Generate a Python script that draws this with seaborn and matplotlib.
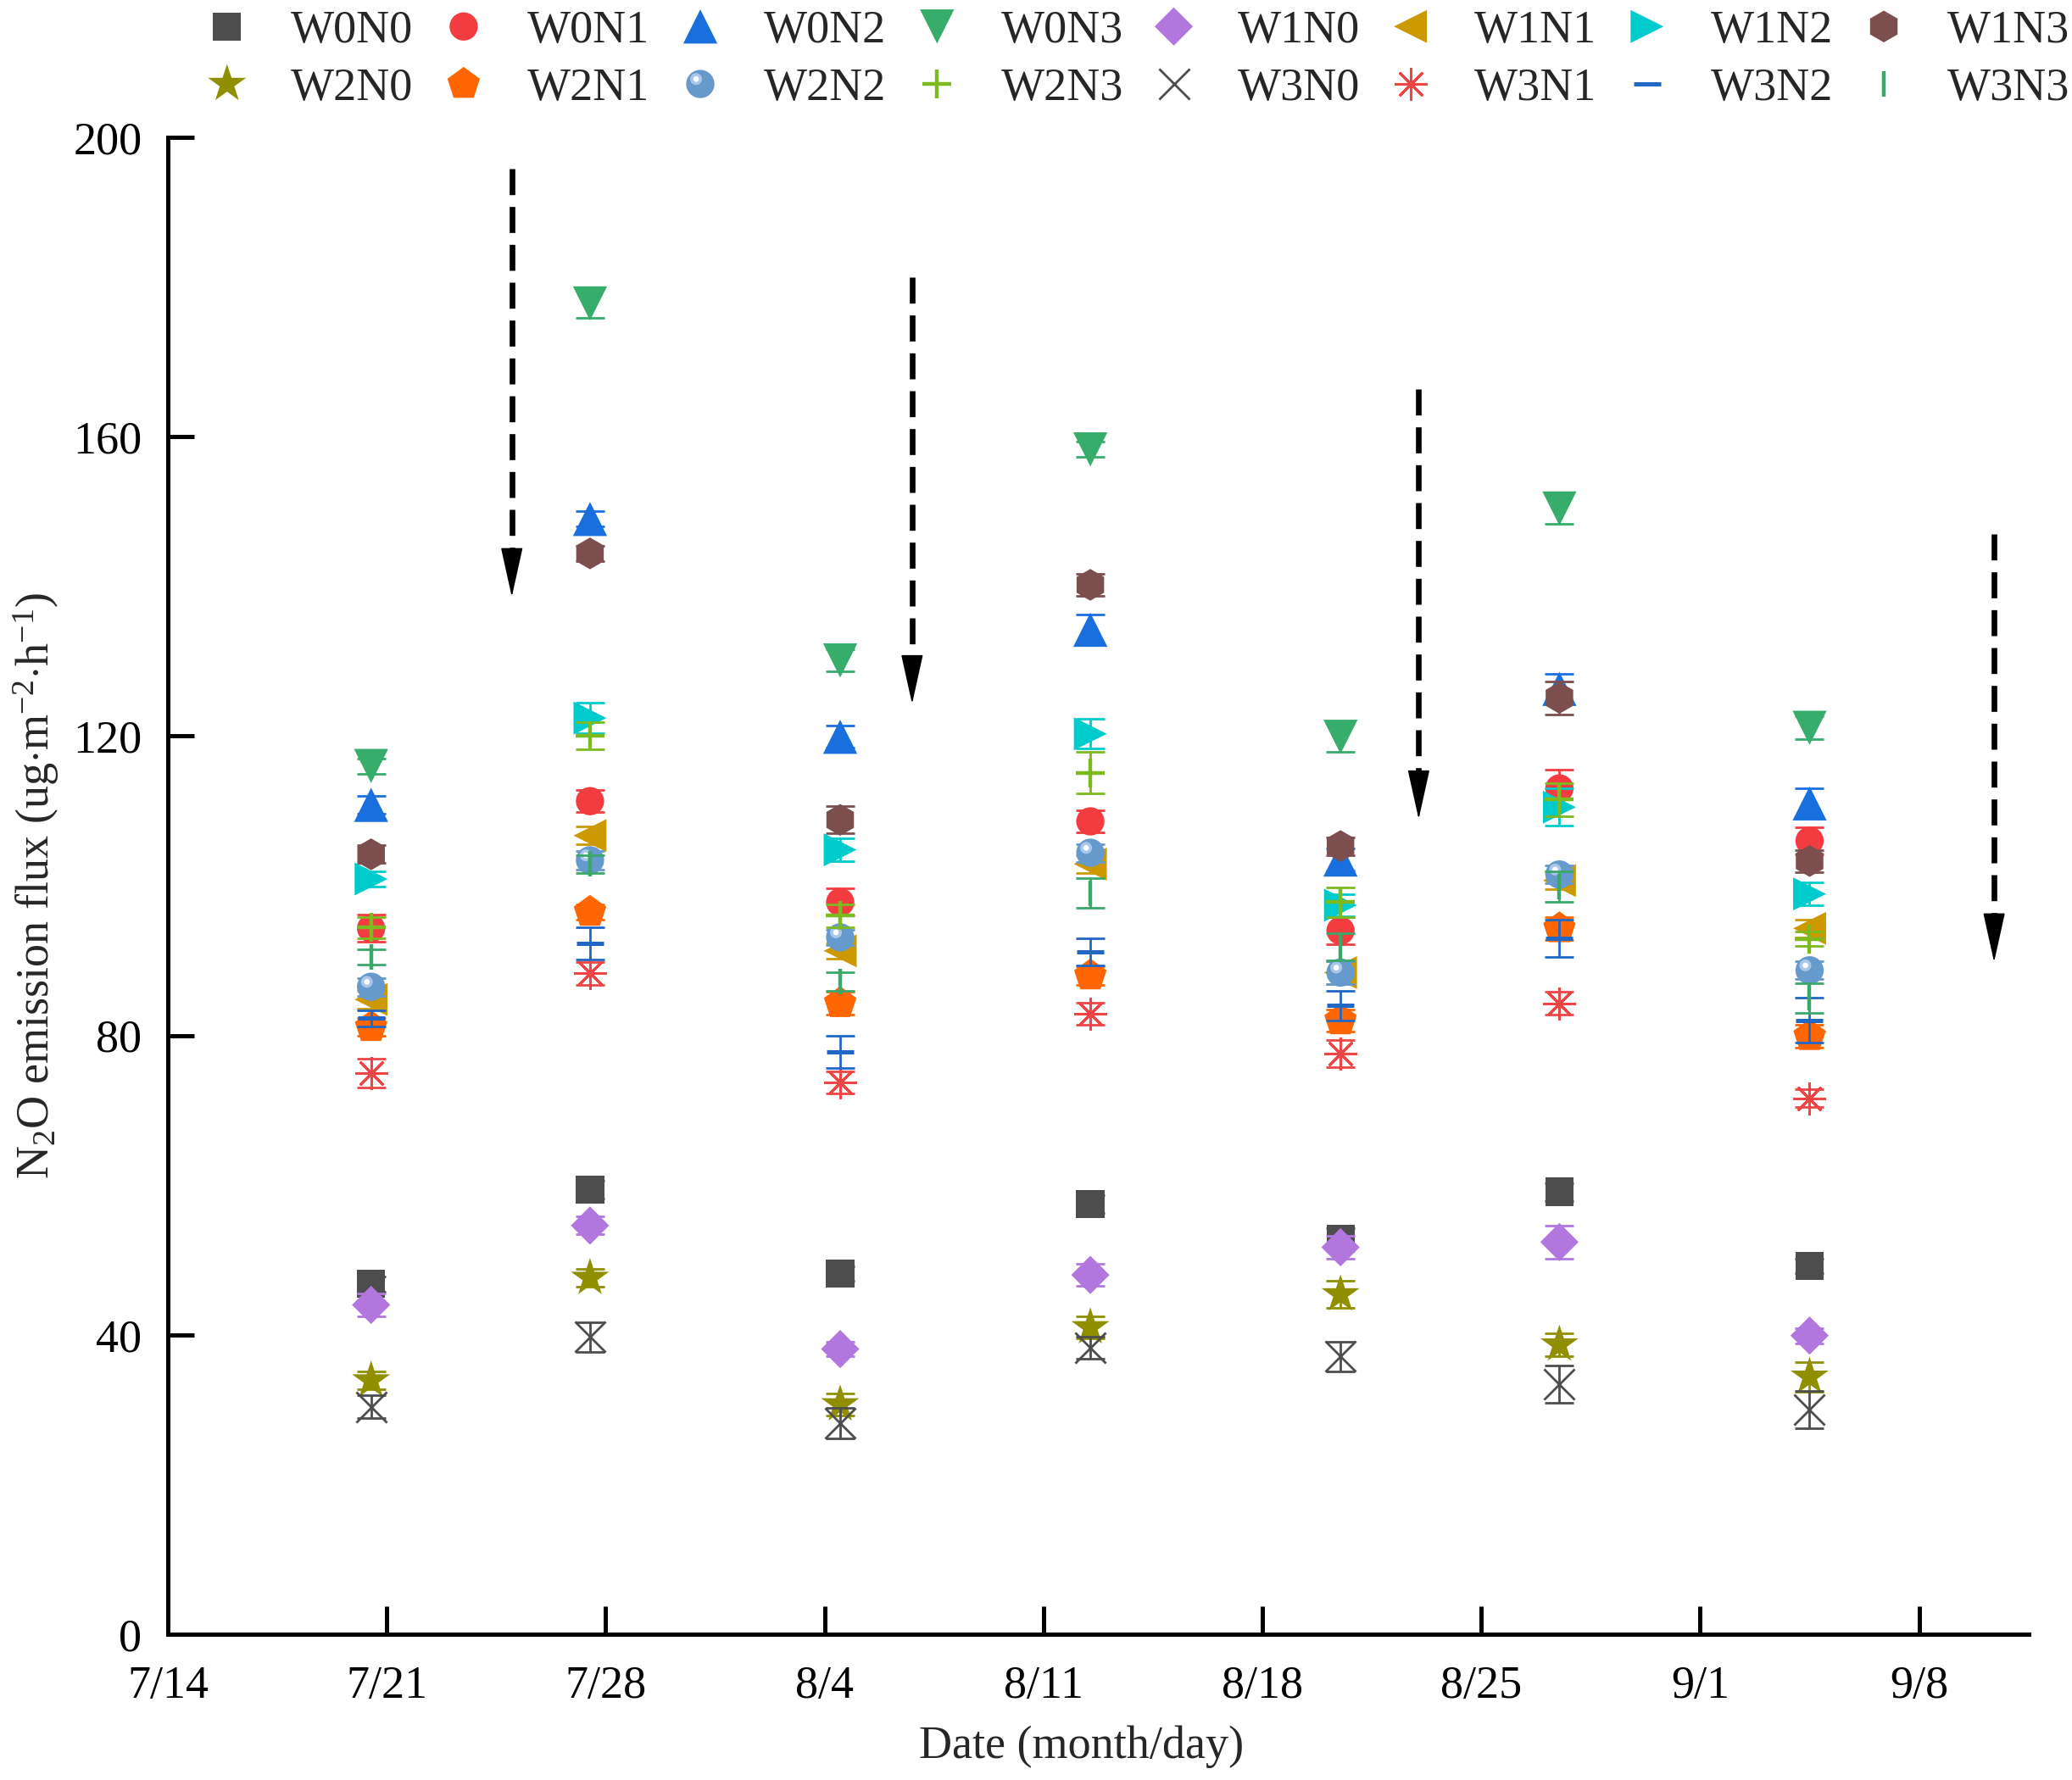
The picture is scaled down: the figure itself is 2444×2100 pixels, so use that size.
import numpy as np
import pandas as pd
import matplotlib
matplotlib.use("Agg")
import matplotlib.pyplot as plt
import seaborn as sns
from matplotlib.path import Path
from matplotlib.legend_handler import HandlerTuple

# ---------------- data ----------------
tick_days = [0, 7, 14, 21, 28, 35, 42, 49, 56]
tick_labels = ["7/14", "7/21", "7/28", "8/4", "8/11", "8/18", "8/25", "9/1", "9/8"]
y_ticks = [0, 40, 80, 120, 160, 200]
# sampling dates, days after 7/14
sample_days = [6.5, 13.5, 21.5, 29.5, 37.5, 44.5, 52.5]

treatments = ["W0N0", "W0N1", "W0N2", "W0N3", "W1N0", "W1N1", "W1N2", "W1N3",
              "W2N0", "W2N1", "W2N2", "W2N3", "W3N0", "W3N1", "W3N2", "W3N3"]

W0N0 = [46.8, 59.4, 48.2, 57.5, 52.8, 59.1, 49.2]
W0N1 = [94.3, 111.3, 97.8, 108.6, 94.0, 113.0, 106.0]
W0N2 = [110.8, 149.0, 119.9, 134.2, 103.5, 126.3, 111.0]
W0N3 = [116.0, 177.8, 130.1, 158.3, 119.9, 150.4, 121.1]
W1N0 = [44.0, 54.6, 38.1, 48.0, 51.7, 52.4, 39.9]
W1N1 = [84.8, 106.7, 91.3, 102.9, 88.4, 100.7, 94.3]
W1N2 = [100.9, 122.4, 104.8, 120.3, 97.4, 110.5, 98.9]
W1N3 = [104.2, 144.4, 108.8, 140.2, 105.3, 125.1, 103.3]
W2N0 = [33.9, 47.6, 30.7, 41.0, 45.4, 38.7, 34.4]
W2N1 = [81.1, 96.5, 84.3, 88.0, 82.0, 94.3, 79.9]
W2N2 = [86.5, 103.4, 93.1, 104.4, 88.4, 101.5, 88.7]
W2N3 = [94.4, 120.0, 96.0, 115.1, 97.8, 111.5, 92.9]
W3N0 = [30.4, 39.7, 28.2, 38.3, 37.1, 33.4, 30.0]
W3N1 = [75.0, 88.3, 73.7, 82.9, 77.6, 84.3, 71.6]
W3N2 = [82.3, 92.3, 77.8, 91.2, 84.0, 93.0, 82.0]
W3N3 = [90.5, 102.9, 87.2, 99.0, 91.8, 99.9, 85.0]

err_W0N0 = [1.0, 1.2, 1.0, 1.2, 1.5, 1.2, 1.0]
err_W0N1 = [1.8, 1.5, 1.8, 1.5, 1.8, 2.5, 1.8]
err_W0N2 = [1.2, 1.0, 1.5, 2.0, 1.5, 2.0, 2.0]
err_W0N3 = [1.0, 1.9, 1.5, 1.0, 2.0, 2.0, 1.5]
err_W1N0 = [1.5, 1.2, 1.0, 1.5, 1.5, 2.2, 1.0]
err_W1N1 = [1.2, 1.2, 1.0, 1.2, 1.5, 1.2, 1.2]
err_W1N2 = [1.0, 2.0, 1.5, 2.0, 1.5, 2.5, 1.5]
err_W1N3 = [1.2, 1.0, 1.8, 1.5, 1.2, 2.2, 1.5]
err_W2N0 = [1.2, 1.2, 1.5, 1.5, 1.8, 1.5, 2.0]
err_W2N1 = [1.2, 1.0, 1.5, 1.2, 1.5, 1.5, 1.5]
err_W2N2 = [1.2, 1.2, 1.0, 1.2, 1.5, 1.2, 1.2]
err_W2N3 = [1.4, 1.8, 1.5, 2.8, 2.0, 2.2, 1.0]
err_W3N0 = [1.5, 2.0, 2.0, 1.5, 2.0, 2.5, 2.5]
err_W3N1 = [1.9, 1.5, 1.5, 1.5, 1.8, 1.5, 1.2]
err_W3N2 = [1.1, 2.2, 2.2, 1.8, 2.0, 2.5, 3.0]
err_W3N3 = [1.0, 1.2, 1.3, 2.0, 1.8, 2.0, 2.0]

# event arrows (days after 7/14, y top, y tip)
event_days = [11.0, 23.8, 40.0, 58.4]
arrow_top = [195.8, 181.3, 166.3, 147.0]
arrow_tip = [138.6, 124.3, 108.9, 89.8]

values = [W0N0, W0N1, W0N2, W0N3, W1N0, W1N1, W1N2, W1N3,
          W2N0, W2N1, W2N2, W2N3, W3N0, W3N1, W3N2, W3N3]
errors = [err_W0N0, err_W0N1, err_W0N2, err_W0N3, err_W1N0, err_W1N1, err_W1N2, err_W1N3,
          err_W2N0, err_W2N1, err_W2N2, err_W2N3, err_W3N0, err_W3N1, err_W3N2, err_W3N3]

rows = []
for t, v, e in zip(treatments, values, errors):
    for d, vv, ee in zip(sample_days, v, e):
        rows.append({"treatment": t, "day": d, "flux": vv, "err": ee})
df = pd.DataFrame(rows)

# ---------------- styles ----------------
colors = {
    "W0N0": "#4d4d4d", "W0N1": "#f23c40", "W0N2": "#1a6fdf", "W0N3": "#37ad6b",
    "W1N0": "#b177de", "W1N1": "#cc9900", "W1N2": "#00cbcc", "W1N3": "#7d4e4e",
    "W2N0": "#8f8f00", "W2N1": "#ff6600", "W2N2": "#6699cc", "W2N3": "#7cba1f",
    "W3N0": "#4d4d4d", "W3N1": "#ee4545", "W3N2": "#2167c4", "W3N3": "#3aa76b",
}
markers = {
    "W0N0": "s", "W0N1": "o", "W0N2": "^", "W0N3": "v",
    "W1N0": "D", "W1N1": "<", "W1N2": ">", "W1N3": "h",
    "W2N0": "*", "W2N1": "p", "W2N2": "o", "W2N3": "+",
    "W3N0": "x", "W3N1": (8, 2, 0), "W3N2": "_", "W3N3": "|",
}
msize = {
    "W0N0": 12.0, "W0N1": 12.0, "W0N2": 14.5, "W0N3": 14.5,
    "W1N0": 11.5, "W1N1": 14.0, "W1N2": 14.0, "W1N3": 13.5,
    "W2N0": 17.0, "W2N1": 14.5, "W2N2": 12.0, "W2N3": 12.0,
    "W3N0": 13.0, "W3N1": 13.0, "W3N2": 11.5, "W3N3": 11.0,
}
line_markers = {"W2N3": 1.6, "W3N0": 1.0, "W3N1": 1.1, "W3N2": 1.8, "W3N3": 1.6}


def offset_circle(r, cx, cy):
    circ = Path.circle((cx, cy), r)
    verts = np.vstack([[[-1.0, -1.0], [1.0, 1.0]], circ.vertices])
    codes = np.concatenate([[Path.MOVETO, Path.MOVETO], circ.codes])
    return Path(verts, codes)


sns.set_style("ticks")
plt.rcParams["font.family"] = ["Liberation Serif", "DejaVu Serif"]
plt.rcParams["mathtext.fontset"] = "custom"
plt.rcParams["mathtext.rm"] = "Liberation Serif"
plt.rcParams["mathtext.it"] = "Liberation Serif:italic"
plt.rcParams["mathtext.bf"] = "Liberation Serif:bold"

FS = 19.5

fig = plt.figure(figsize=(12.22, 10.5), dpi=200)
ax = fig.add_axes([0.081, 0.0819, 0.898, 0.841])

handles = {}
for i, t in enumerate(treatments):
    sub = df[df["treatment"] == t]
    c = colors[t]
    z = 3 + i * 0.1
    ax.errorbar(sub["day"], sub["flux"], yerr=sub["err"], fmt="none", ecolor=c,
                elinewidth=1.0, capsize=6, capthick=1.0, zorder=z)
    kw = dict(marker=markers[t], color=c, s=msize[t] ** 2, zorder=z + 0.05, legend=False)
    if t in line_markers:
        kw["linewidth"] = line_markers[t]
    else:
        kw["linewidth"] = 0
        kw["edgecolor"] = "none"
    sns.scatterplot(data=sub, x="day", y="flux", ax=ax, **kw)
    coll = ax.collections[-1]
    if t == "W2N2":
        sns.scatterplot(data=sub, x="day", y="flux", ax=ax, marker=offset_circle(0.42, -0.3, 0.35),
                        color="#aac6e8", s=msize[t] ** 2, linewidth=0, edgecolor="none",
                        zorder=z + 0.06, legend=False)
        h1 = ax.collections[-1]
        sns.scatterplot(data=sub, x="day", y="flux", ax=ax, marker=offset_circle(0.2, -0.3, 0.35),
                        color="#ffffff", s=msize[t] ** 2, linewidth=0, edgecolor="none",
                        zorder=z + 0.07, legend=False)
        h2 = ax.collections[-1]
        handles[t] = (coll, h1, h2)
    else:
        handles[t] = coll

# event arrows
head_len = 6.0
for xd, top, tip in zip(event_days, arrow_top, arrow_tip):
    base = tip + head_len
    ax.plot([xd, xd], [top, base], color="k", lw=2.4, dashes=(4.6, 2.1),
            dash_capstyle="butt", zorder=6)
    ax.annotate("", xy=(xd, tip), xytext=(xd, base),
                arrowprops=dict(arrowstyle="-|>,head_length=1.9,head_width=0.42",
                                color="k", lw=0.6, shrinkA=0, shrinkB=0, mutation_scale=10),
                zorder=6)

ax.set_xlim(0, 59.5)
ax.set_ylim(0, 200)
ax.set_xticks(tick_days, tick_labels)
ax.set_yticks(y_ticks)
ax.tick_params(axis="x", direction="in", length=12, width=1.8, pad=13, labelsize=FS, colors="black")
ax.tick_params(axis="y", direction="in", length=11, width=1.8, pad=11, labelsize=FS, colors="black")
for side in ["top", "right"]:
    ax.spines[side].set_visible(False)
for side in ["left", "bottom"]:
    ax.spines[side].set_linewidth(1.8)
    ax.spines[side].set_color("black")

ax.set_xlabel("Date (month/day)", fontsize=FS)
ax.xaxis.set_label_coords(0.491, -0.061)
ax.set_ylabel(r"N$_2$O emission flux (ug$\cdot$m$^{-2}$$\cdot$h$^{-1}$)", fontsize=FS, labelpad=5)

order = []
for col in range(8):
    order += [col, col + 8]
leg_handles = [handles[treatments[k]] for k in order]
leg_labels = [treatments[k] for k in order]
fig.legend(leg_handles, leg_labels, loc="upper left", bbox_to_anchor=(238 / 2444, 0.997),
           ncol=8, frameon=False, fontsize=FS, handlelength=0.9, handletextpad=0.94,
           columnspacing=0.65, labelspacing=0.32, borderpad=0.1, borderaxespad=0,
           scatterpoints=1, scatteryoffsets=[0.5],
           handler_map={tuple: HandlerTuple(ndivide=1)})

fig.savefig("out.png", dpi=200)
